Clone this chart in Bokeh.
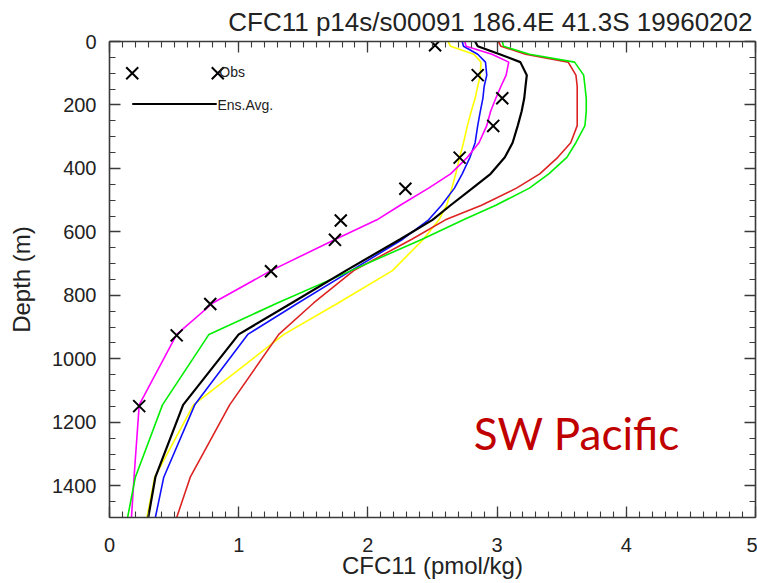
from bokeh.plotting import figure
from bokeh.models import Range1d, FixedTicker, LinearAxis, Label, CustomLabelingPolicy
from bokeh.embed import file_html
from bokeh.resources import INLINE

# ---- data ----
depth = [0, 15, 40, 65, 106, 141, 179, 220, 265, 319, 365, 417, 462, 516,
         562, 623, 722, 824, 923, 1145, 1373, 1500]
yellow = [2.62, 2.64, 2.82, 2.875, 2.87, 2.85, 2.83, 2.80, 2.77, 2.74, 2.71,
          2.68, 2.65, 2.61, 2.55, 2.43, 2.19, 1.77, 1.35, 0.65, 0.35, 0.29]
blue = [2.73, 2.74, 2.85, 2.91, 2.92, 2.90, 2.89, 2.87, 2.85, 2.83, 2.79,
        2.73, 2.67, 2.57, 2.47, 2.27, 1.87, 1.46, 1.07, 0.66, 0.42, 0.355]
magenta = [2.75, 2.76, 2.96, 3.09, 3.07, 3.03, 2.99, 2.95, 2.92, 2.86, 2.77,
           2.64, 2.47, 2.25, 2.07, 1.75, 1.25, 0.80, 0.52, 0.23, 0.19, 0.17]
red = [3.01, 3.03, 3.22, 3.55, 3.61, 3.62, 3.62, 3.62, 3.62, 3.57, 3.47,
       3.33, 3.15, 2.88, 2.60, 2.34, 1.89, 1.58, 1.31, 0.93, 0.625, 0.52]
green = [3.04, 3.05, 3.25, 3.60, 3.67, 3.68, 3.69, 3.69, 3.68, 3.61, 3.54,
         3.40, 3.25, 2.99, 2.74, 2.42, 1.87, 1.30, 0.77, 0.41, 0.20, 0.14]
ens_avg = [2.83, 2.85, 3.02, 3.18, 3.23, 3.22, 3.21, 3.19, 3.16, 3.12, 3.06,
           2.95, 2.81, 2.64, 2.50, 2.25, 1.83, 1.41, 1.00, 0.57, 0.355, 0.30]

obs_depth = [12, 106, 179, 266, 366, 464, 564, 625, 724, 827, 926, 1149]
obs_cfc = [2.52, 2.85, 3.04, 2.97, 2.71, 2.29, 1.79, 1.745, 1.25, 0.78, 0.52, 0.23]

x_ticks = [0, 1, 2, 3, 4, 5]
y_ticks = [0, 200, 400, 600, 800, 1000, 1200, 1400]

title_text = "CFC11 p14s/s00091 186.4E 41.3S 19960202"
x_title = "CFC11 (pmol/kg)"
y_title = "Depth (m)"
region_text = "SW Pacific"

# ---- figure ----
FONT = "Liberation Sans"
TXT = "#222222"
AX = "#3a3a3a"

p = figure(width=757, height=583, x_range=Range1d(0, 5), y_range=Range1d(1500, 0),
           output_backend="svg", toolbar_location=None,
           min_border_left=109, min_border_right=2, min_border_top=40,
           min_border_bottom=66)
p.background_fill_color = "white"
p.border_fill_color = "white"
p.outline_line_color = None
p.grid.visible = False

p.title.text = title_text
p.title.align = "right"
p.title.text_font = FONT
p.title.text_font_size = "26px"
p.title.text_font_style = "normal"
p.title.text_color = TXT
p.title.standoff = 9
p.title.offset = 3

x_minor = [i / 10 for i in range(51)]
y_minor = list(range(0, 1501, 50))
xt = FixedTicker(ticks=x_ticks, minor_ticks=x_minor)
yt = FixedTicker(ticks=y_ticks, minor_ticks=y_minor)

no_labels = CustomLabelingPolicy(code="""
for (const i of indices)
    indices.unset(i)
return indices
""")


def style_axis(ax, labels=True):
    ax.axis_line_color = AX
    ax.axis_line_width = 1.6
    ax.major_tick_line_color = AX
    ax.minor_tick_line_color = AX
    ax.major_tick_line_width = 1.3
    ax.minor_tick_line_width = 1.1
    ax.major_tick_in = 11
    ax.major_tick_out = 0
    ax.minor_tick_in = 6
    ax.minor_tick_out = 0
    ax.major_label_text_font = FONT
    ax.major_label_text_color = TXT
    ax.axis_label_text_font = FONT
    ax.axis_label_text_color = TXT
    ax.axis_label_text_font_style = "normal"
    if not labels:
        ax.major_label_policy = no_labels
        ax.major_label_text_font_size = "0px"
        ax.major_label_standoff = 0


xa = p.xaxis[0]
xa.ticker = xt
style_axis(xa)
xa.major_label_text_font_size = "20px"
xa.major_label_standoff = 20
xa.axis_label = x_title
xa.axis_label_text_font_size = "24px"
xa.axis_label_standoff = -3

ya = p.yaxis[0]
ya.ticker = yt
style_axis(ya)
ya.major_label_text_font_size = "20px"
ya.major_label_standoff = 13
ya.axis_label = y_title
ya.axis_label_text_font_size = "24px"
ya.axis_label_standoff = 14

top = LinearAxis(ticker=xt)
style_axis(top, labels=False)
p.add_layout(top, "above")
right = LinearAxis(ticker=yt)
style_axis(right, labels=False)
p.add_layout(right, "right")

# ---- model profiles ----
for vals, col, w in [(yellow, "#FFFF00", 1.6), (blue, "#1010FF", 1.6),
                     (magenta, "#FF00FF", 1.6), (red, "#DD2222", 1.6),
                     (green, "#00EE00", 1.6), (ens_avg, "black", 2.2)]:
    p.line(vals, depth, line_color=col, line_width=w)

# ---- observations ----
p.scatter(obs_cfc, obs_depth, marker="x", size=17, line_color="black", line_width=2)

# ---- in-plot legend (IDL style) ----
leg_x = [0.176, 0.838]
p.scatter(leg_x, [100, 100], marker="x", size=17, line_color="black", line_width=2)
p.line([0.176, 0.83], [197, 197], line_color="black", line_width=2)
p.add_layout(Label(x=0.85, y=95, text="Obs", text_font=FONT, text_font_size="14px",
                   text_color=TXT, text_baseline="alphabetic"))
p.add_layout(Label(x=0.835, y=200, text="Ens.Avg.", text_font=FONT, text_font_size="14px",
                   text_color=TXT, text_baseline="alphabetic"))

# ---- region tag ----
p.add_layout(Label(x=2.82, y=1235, text=region_text, text_font="Lato",
                   text_font_size="44px", text_color="#C00000",
                   text_baseline="alphabetic"))

open("out.html", "w").write(file_html(p, INLINE))
